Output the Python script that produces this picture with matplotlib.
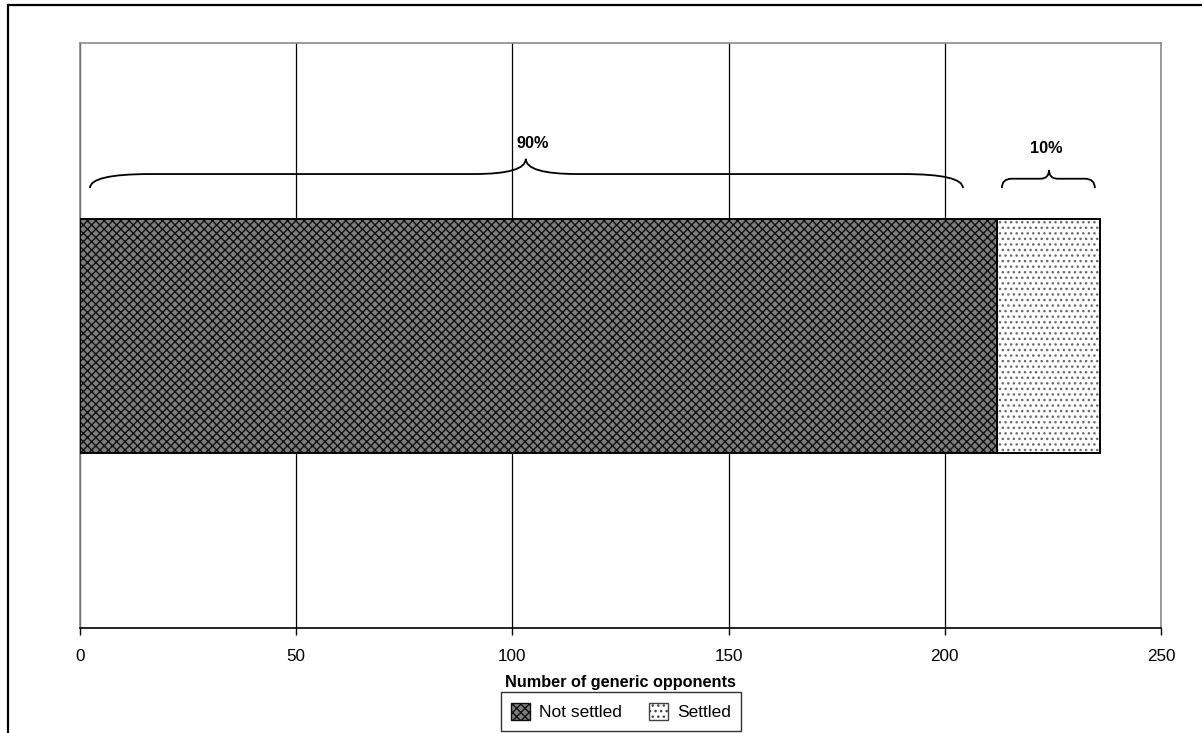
import matplotlib
matplotlib.use("Agg")
import matplotlib.pyplot as plt
from matplotlib.path import Path
from matplotlib.patches import PathPatch, Rectangle, Patch
import matplotlib.transforms as mtransforms

plt.rcParams['font.family'] = ['Liberation Sans', 'DejaVu Sans']
plt.rcParams['hatch.linewidth'] = 1.0

categories = ["Generic opponents"]
not_settled = [212]
settled = [24]
series_names = ["Not settled", "Settled"]
xticks = [0, 50, 100, 150, 200, 250]
xlabel = "Number of generic opponents"

fig = plt.figure(figsize=(12.02, 7.33), dpi=100)
ax = fig.add_axes([80/1202, 1-628/733, (1161-80)/1202, (628-43)/733])

# figure border (cropped on right and bottom)
fig.patches.append(Rectangle((8/1202, -0.05), 1.1, 1-5/733+0.05, transform=fig.transFigure,
                             fill=False, edgecolor='black', linewidth=1.6, zorder=0))

# hatched fills (hatch colour follows edge colour), then black outlines on top
ax.barh(categories, not_settled, height=0.4, color='#7e7e7e', edgecolor='#111111',
        hatch='xxxx', linewidth=0, zorder=3)
ax.barh(categories, settled, left=not_settled, height=0.4, color='white', edgecolor='#6a6a6a',
        hatch='...', linewidth=0, zorder=3)
ax.barh(categories, not_settled, height=0.4, fill=False, edgecolor='black',
        linewidth=1.4, zorder=4)
ax.barh(categories, settled, left=not_settled, height=0.4, fill=False, edgecolor='black',
        linewidth=1.4, zorder=4)

ax.set_xlim(0, 250)
ax.set_ylim(-0.5, 0.5)
ax.set_xticks(xticks)
ax.set_xticklabels([str(t) for t in xticks], fontsize=12.3)
ax.set_yticks([])
ax.tick_params(axis='x', length=5, width=1, direction='out', pad=10)
ax.xaxis.grid(True, color='black', linewidth=0.9, zorder=0)
ax.set_axisbelow(True)
for s in ['top', 'right', 'left']:
    ax.spines[s].set_color('#8c8c8c')
    ax.spines[s].set_linewidth(1.2)
ax.spines['bottom'].set_color('black')
ax.spines['bottom'].set_linewidth(1.2)
ax.set_xlabel(xlabel, fontsize=11.7, fontweight='bold', labelpad=8)

tr = mtransforms.blended_transform_factory(ax.transData, ax.transAxes)

def brace(x0, x1, xm, yb, yf, yt, cw_end, cw_tip):
    verts = [(x0, yb), (x0, yf), (x0 + cw_end, yf),
             (xm - cw_tip, yf),
             (xm, yf), (xm, yt),
             (xm, yf), (xm + cw_tip, yf),
             (x1 - cw_end, yf),
             (x1, yf), (x1, yb)]
    codes = [Path.MOVETO, Path.CURVE3, Path.CURVE3, Path.LINETO,
             Path.CURVE3, Path.CURVE3, Path.CURVE3, Path.CURVE3,
             Path.LINETO, Path.CURVE3, Path.CURVE3]
    ax.add_patch(PathPatch(Path(verts, codes), transform=tr, fill=False,
                           edgecolor='black', linewidth=1.3, zorder=4, clip_on=False))

total = not_settled[0] + settled[0]
pct_ns = round(100 * not_settled[0] / total)
pct_s = round(100 * settled[0] / total)

brace(2.3, 204.2, 103.1, 0.752, 0.776, 0.802, 14, 12)
brace(213.2, 234.7, 224.1, 0.752, 0.768, 0.783, 2.3, 2.0)
ax.text(104.8, 0.829, f"{pct_ns}%", transform=tr, ha='center', va='center',
        fontsize=11.7, fontweight='bold', zorder=5)
ax.text(223.4, 0.820, f"{pct_s}%", transform=tr, ha='center', va='center',
        fontsize=11.7, fontweight='bold', zorder=5)

handles = [Patch(facecolor='#7e7e7e', edgecolor='#111111', hatch='xxxx', linewidth=1.0),
           Patch(facecolor='white', edgecolor='#444444', hatch='...', linewidth=1.0)]
leg = fig.legend(handles, series_names, loc='center', bbox_to_anchor=(621/1202, 1-711.5/733),
                 ncol=2, fontsize=12.5, frameon=True, fancybox=False, edgecolor='black',
                 handlelength=1.1, handleheight=1.1, handletextpad=0.5,
                 columnspacing=1.6, borderpad=0.6, borderaxespad=0)
leg.get_frame().set_linewidth(1.0)

fig.savefig("out.png", dpi=100)
